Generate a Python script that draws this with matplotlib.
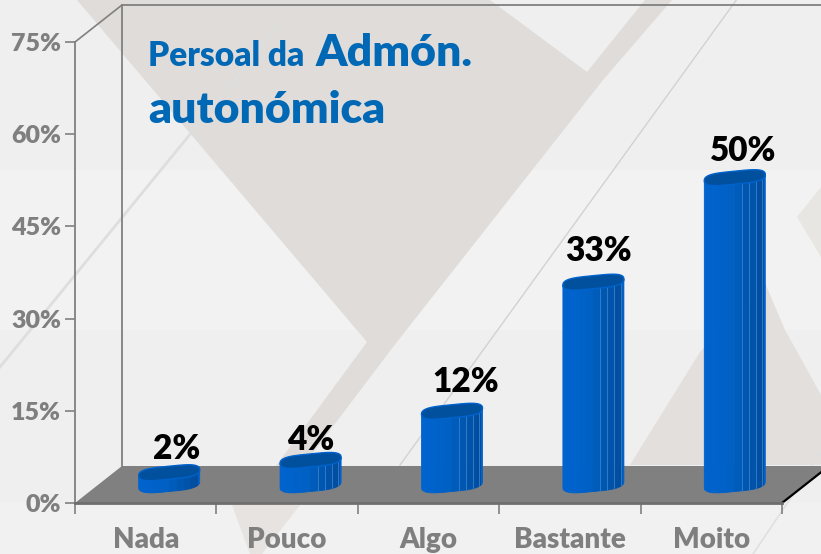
import numpy as np
import matplotlib
matplotlib.use('Agg')
import matplotlib.pyplot as plt

categories = ['Nada', 'Pouco', 'Algo', 'Bastante', 'Moito']
values = [2, 4, 12, 33, 50]
value_labels = ['2%', '4%', '12%', '33%', '50%']
y_ticks = [0, 15, 30, 45, 60, 75]
y_tick_labels = ['0%', '15%', '30%', '45%', '60%', '75%']

W, H = 821, 554
LEFT, RIGHT, TOP, BOTTOM = 75, 782, 42, 503
PX_X = 5 / (RIGHT - LEFT)
PX_Y = 75 / (BOTTOM - TOP)
DEPTH_X = 47 * PX_X
DEPTH_Y = 37 * PX_Y
FONT = 'Lato'
WEIGHT = 'heavy'

# label shift from the top of each bar, in pixels
label_shift = [(7, 24), (0, 20), (14, 29), (5, 31), (8, 27)]

fig = plt.figure(figsize=(W / 100, H / 100), dpi=100, facecolor='#efefef')

# background picture
bg = fig.add_axes([0, 0, 1, 1], zorder=0)
bg.set_xlim(0, W)
bg.set_ylim(H, 0)
bg.axis('off')
bg.fill([0, W, W, 0], [170, 170, 330, 330], color='#f2f2f2', lw=0)
bg.fill([0, W, W, 0], [503, 503, 554, 554], color='#f1f1f1', lw=0)
dark = '#dfdcd9'
bg.fill([77, 490, 587, 645, 672, 603, 393, 300, 273, 367],
        [0, 0, 72, 0, 0, 80, 347, 470, 470, 342], color=dark, lw=0)
bg.fill([630, 700, 765, 785, 821, 821], [465, 352, 283, 330, 395, 465], color='#e2dfdc', lw=0)
bg.fill([821, 797, 821], [187, 217, 257], color='#e8e6e3', lw=0)
bg.fill([232, 300, 262, 250], [505, 505, 554, 554], color='#e6e3e0', lw=0)
bg.plot([745, 400], [-12, 465], color='#d2d2d2', lw=1)
bg.plot([285, 0], [18, 367], color='#dedede', lw=2)
bg.plot([821, 753], [453, 554], color='#e0e0e0', lw=1.2)

ax = fig.add_axes([LEFT / W, 1 - BOTTOM / H, (RIGHT - LEFT) / W, (BOTTOM - TOP) / H], zorder=1)
ax.patch.set_alpha(0)
ax.set_xlim(0, 5)
ax.set_ylim(0, 75)

for s in ['top', 'right']:
    ax.spines[s].set_visible(False)
ax.spines['left'].set_color('#808080')
ax.spines['left'].set_linewidth(1.3)
ax.spines['bottom'].set_color('#6e6e6e')
ax.spines['bottom'].set_linewidth(2)
ax.spines['bottom'].set_zorder(2.5)

ax.set_yticks(y_ticks)
ax.set_yticklabels(y_tick_labels, fontfamily=FONT, fontweight=WEIGHT, fontsize=18, color='#7f7f7f')
ax.set_xticks(range(6))
ax.set_xticklabels([])
ax.set_xticks(np.arange(5) + 0.5, minor=True)
ax.set_xticklabels(categories, minor=True, fontfamily=FONT, fontweight=WEIGHT, fontsize=20, color='#7f7f7f')
ax.tick_params(axis='y', length=7, width=1.2, color='#808080', pad=3)
ax.tick_params(axis='x', which='major', length=8, width=1.2, color='#808080')
ax.tick_params(axis='x', which='minor', length=0, pad=17)

# walls and floor
wall = '#808080'
far = 5 + DEPTH_X
ax.plot([DEPTH_X, DEPTH_X], [DEPTH_Y, 75 + DEPTH_Y], color=wall, lw=1.3, clip_on=False)
ax.plot([0, DEPTH_X], [75, 75 + DEPTH_Y], color=wall, lw=1.2, clip_on=False)
ax.plot([DEPTH_X, far], [75 + DEPTH_Y, 75 + DEPTH_Y], color=wall, lw=1.3, clip_on=False)
ax.fill([0, DEPTH_X, far, 5], [0, DEPTH_Y, DEPTH_Y, 0], color='#808080', lw=0, clip_on=False, zorder=2)
ax.plot([5, far], [0, DEPTH_Y], color='black', lw=1.6, clip_on=False, zorder=2.2)

# columns
half_w = 30.5 * PX_X
skew = 3 * PX_Y
half_h = 6.5 * PX_Y
base = (BOTTOM - 485) * PX_Y
edges = -np.cos(np.linspace(0, np.pi, 13))


def front_edge(u, level):
    return level + skew * u - half_h * (1 - np.abs(u) ** 4) ** 0.5


def face_color(u):
    g = np.interp(u, [-1, -0.1, 0.95], [100, 96, 76])
    b = np.interp(u, [-1, -0.1, 0.95], [208, 196, 156])
    return (0, g / 255, b / 255)


for i, v in enumerate(values):
    cx = i + 0.5 + DEPTH_X / 2
    top = base + v
    for a, b in zip(edges[:-1], edges[1:]):
        uu = np.linspace(a, b, 6)
        xs = np.r_[cx + half_w * uu, cx + half_w * uu[::-1]]
        ys = np.r_[front_edge(uu, base), front_edge(uu[::-1], top)]
        color = '#0062cc' if a > 0.93 else face_color((a + b) / 2)
        ax.fill(xs, ys, facecolor=color, edgecolor=color, lw=0.6, clip_on=False, zorder=3)
    for u in [0.23, 0.46, 0.69, 0.9]:
        if v > 3:
            ax.plot([cx + half_w * u] * 2, [front_edge(u, base), front_edge(u, top)],
                    color='#3a80c8', lw=0.6, clip_on=False, zorder=3.1)
    t = np.linspace(0, 2 * np.pi, 120)
    u = np.sign(np.cos(t)) * np.abs(np.cos(t)) ** 0.5
    w = np.sign(np.sin(t)) * np.abs(np.sin(t)) ** 0.8
    ax.fill(cx + half_w * u, top + skew * u + half_h * w, facecolor='#00509e', edgecolor='#0062cc',
            lw=1, clip_on=False, zorder=3.2)
    dx, dy = label_shift[i]
    ax.text(cx + dx * PX_X, top + dy * PX_Y, value_labels[i], ha='center', va='center',
            fontfamily=FONT, fontweight=WEIGHT, fontsize=24, color='black', zorder=4)

title_color = '#0068b5'
fig.text(148 / W, 1 - 66 / H, 'Persoal da', fontfamily=FONT, fontweight=WEIGHT, fontsize=24,
         color=title_color, zorder=5)
fig.text(316 / W, 1 - 66 / H, 'Admón.', fontfamily=FONT, fontweight=WEIGHT, fontsize=32,
         color=title_color, zorder=5)
fig.text(148 / W, 1 - 123 / H, 'autonómica', fontfamily=FONT, fontweight=WEIGHT, fontsize=32,
         color=title_color, zorder=5)

fig.savefig('out.png', dpi=100, facecolor=fig.get_facecolor())
